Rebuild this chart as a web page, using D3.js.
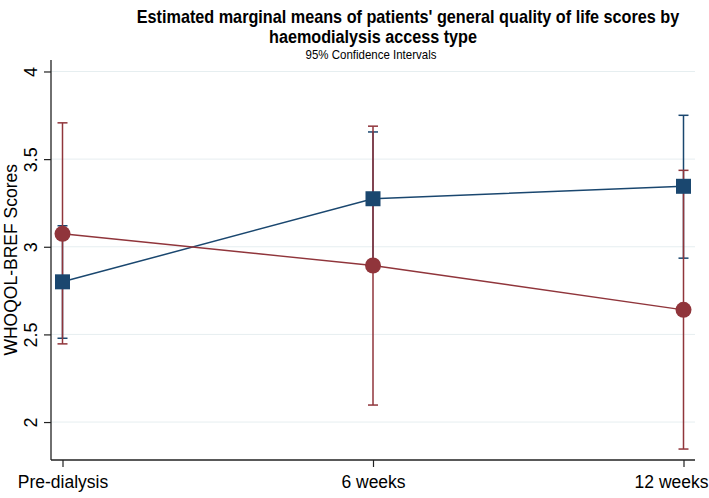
<!DOCTYPE html>
<html>
<head>
<meta charset="utf-8">
<script src="https://cdn.jsdelivr.net/npm/d3@7"></script>
<style>
  html, body { margin: 0; padding: 0; background: #fff; }
  svg { display: block; }
  text { font-family: "Liberation Sans", Arial, sans-serif; fill: #000; }
</style>
</head>
<body>
<div id="chart"></div>
<script>
// ---- data ----
const categories = ["Pre-dialysis", "6 weeks", "12 weeks"];
const yTicks = [2, 2.5, 3, 3.5, 4];
const blueMean  = [2.800, 3.274, 3.345];
const blueLower = [2.478, 2.893, 2.935];
const blueUpper = [3.120, 3.655, 3.750];
const redMean   = [3.074, 2.893, 2.640];
const redLower  = [2.446, 2.097, 1.846];
const redUpper  = [3.707, 3.688, 3.436];

const titleLine1 = "Estimated marginal means of patients' general quality of life scores by";
const titleLine2 = "haemodialysis access type";
const subtitle = "95% Confidence Intervals";
const yTitle = "WHOQOL-BREF Scores";

const W = 709, H = 498;
const plot = { left: 51, right: 695, top: 60, bottom: 460 };
const BLUE = "#1a476f", RED = "#90353b";
const FONT = "'Liberation Sans', Arial, sans-serif";

const svg = d3.select("#chart").append("svg").attr("width", W).attr("height", H);

const x = d3.scalePoint().domain(categories).range([62.5, 683.5]);
const y = d3.scaleLinear().domain([1.7835, 4.0655]).range([plot.bottom, plot.top]);

// gridlines
svg.append("g").selectAll("line").data(yTicks).join("line")
  .attr("x1", plot.left).attr("x2", plot.right)
  .attr("y1", d => y(d)).attr("y2", d => y(d))
  .attr("stroke", "#e6eef0").attr("stroke-width", 1);

// y axis
const yAxis = d3.axisLeft(y).tickValues(yTicks).tickSize(7).tickFormat(d3.format("~g"));
const gy = svg.append("g").attr("transform", `translate(${plot.left},0)`).call(yAxis);
gy.select(".domain").remove();
gy.selectAll(".tick line").attr("stroke", "#222").attr("stroke-width", 1.2);
gy.selectAll(".tick text")
  .attr("transform", "translate(-14,0) rotate(-90)")
  .attr("x", 0).attr("y", 0).attr("dy", 0)
  .attr("text-anchor", "middle")
  .style("font-size", "18px")
  .style("font-family", FONT)
  .attr("fill", "#000");

svg.append("line")
  .attr("x1", plot.left).attr("x2", plot.left)
  .attr("y1", plot.top).attr("y2", plot.bottom)
  .attr("stroke", "#222").attr("stroke-width", 1.3);

// x axis
const xAxis = d3.axisBottom(x).tickSize(7);
const gx = svg.append("g").attr("transform", `translate(0,${plot.bottom})`).call(xAxis);
gx.select(".domain").remove();
gx.selectAll(".tick line").attr("stroke", "#222").attr("stroke-width", 1.2);
gx.selectAll(".tick text")
  .attr("y", 28).attr("dy", 0)
  .style("font-size", "17.5px")
  .style("font-family", FONT)
  .attr("fill", "#000");
// keep the last label inside the picture, as the reference does
gx.selectAll(".tick text").filter(d => d === categories[categories.length - 1])
  .attr("text-anchor", "end")
  .attr("x", W - 1 - x(categories[categories.length - 1]));
svg.append("line")
  .attr("x1", plot.left).attr("x2", plot.right)
  .attr("y1", plot.bottom).attr("y2", plot.bottom)
  .attr("stroke", "#222").attr("stroke-width", 1.3);

// y title
svg.append("text")
  .attr("transform", `translate(17,${(y(2) + y(4)) / 2 + 13}) rotate(-90)`)
  .attr("text-anchor", "middle")
  .style("font-size", "17.5px")
  .text(yTitle);

// titles: condensed by a horizontal scale to the reference widths
function title(txt, cx, by, size, bold, width) {
  const t = svg.append("text")
    .attr("text-anchor", "middle")
    .style("font-family", FONT)
    .style("font-weight", bold ? "bold" : "normal")
    .style("font-size", size + "px")
    .text(txt);
  const w = t.node().getComputedTextLength();
  const s = w > 0 ? width / w : 1;
  t.attr("transform", `translate(${cx},${by}) scale(${s},1)`);
}
title(titleLine1, 408, 23, 17.5, true, 543);
title(titleLine2, 373, 43, 17.5, true, 208);
title(subtitle, 371, 58.5, 12.5, false, 131);

// series
function series(mean, lower, upper) {
  return categories.map((c, i) => ({ c, m: mean[i], lo: lower[i], hi: upper[i] }));
}
const blue = series(blueMean, blueLower, blueUpper);
const red = series(redMean, redLower, redUpper);
const capW = 5;

function drawCI(data, color) {
  const g = svg.append("g").attr("stroke", color).attr("stroke-width", 1.5).attr("fill", "none");
  g.selectAll("line.v").data(data).join("line").attr("class", "v")
    .attr("x1", d => x(d.c)).attr("x2", d => x(d.c))
    .attr("y1", d => y(d.lo)).attr("y2", d => y(d.hi));
  g.selectAll("line.lo").data(data).join("line").attr("class", "lo")
    .attr("x1", d => x(d.c) - capW).attr("x2", d => x(d.c) + capW)
    .attr("y1", d => y(d.lo)).attr("y2", d => y(d.lo));
  g.selectAll("line.hi").data(data).join("line").attr("class", "hi")
    .attr("x1", d => x(d.c) - capW).attr("x2", d => x(d.c) + capW)
    .attr("y1", d => y(d.hi)).attr("y2", d => y(d.hi));
}
drawCI(blue, BLUE);
drawCI(red, RED);

const line = d3.line().x(d => x(d.c)).y(d => y(d.m));
svg.append("path").datum(blue).attr("d", line)
  .attr("fill", "none").attr("stroke", BLUE).attr("stroke-width", 1.5);
svg.selectAll("rect.sq").data(blue).join("rect").attr("class", "sq")
  .attr("x", d => x(d.c) - 7.5).attr("y", d => y(d.m) - 7.5)
  .attr("width", 15).attr("height", 15).attr("fill", BLUE);

svg.append("path").datum(red).attr("d", line)
  .attr("fill", "none").attr("stroke", RED).attr("stroke-width", 1.5);
svg.selectAll("circle.ci").data(red).join("circle").attr("class", "ci")
  .attr("cx", d => x(d.c)).attr("cy", d => y(d.m)).attr("r", 8)
  .attr("fill", RED);
</script>
</body>
</html>
